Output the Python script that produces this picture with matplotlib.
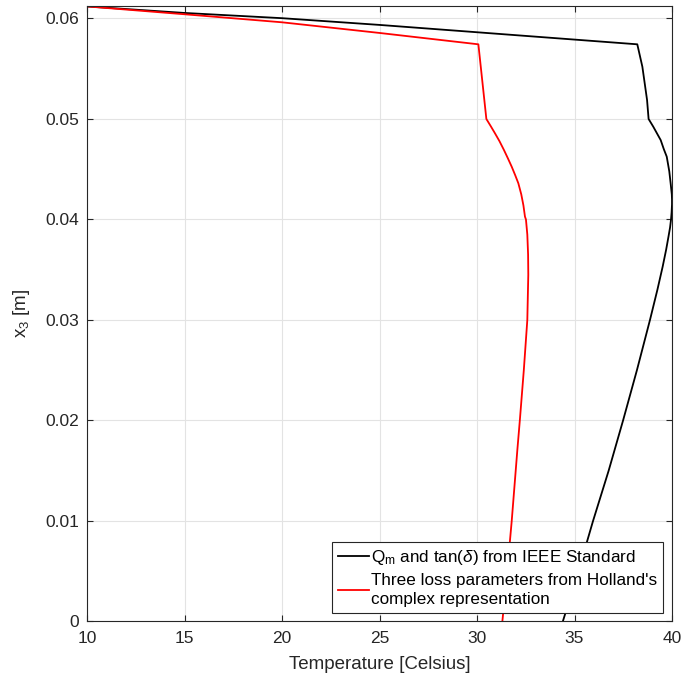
import matplotlib.pyplot as plt

plt.rcParams['font.family'] = ['Liberation Sans', 'DejaVu Sans']
plt.rcParams['mathtext.fontset'] = 'custom'
plt.rcParams['mathtext.rm'] = 'Liberation Sans'
plt.rcParams['mathtext.it'] = 'Liberation Sans:italic'

# Q_m / tan(delta) curve (bottom to top)
ieee_temp = [34.4, 35.2, 35.95, 36.75, 37.49, 38.2, 38.87, 39.25, 39.52, 39.7,
             39.82, 39.9, 39.95, 39.98, 40.0, 40.0, 39.99, 39.93, 39.86, 39.73,
             39.58, 39.42, 39.22, 39.04, 38.8, 38.72, 38.48, 38.22,
             30.0, 25.0, 20.0, 15.0, 10.0]
ieee_x3 = [0.0, 0.005, 0.01, 0.015, 0.02, 0.025, 0.03, 0.033, 0.0353, 0.037,
           0.0383, 0.0392, 0.04, 0.0407, 0.0415, 0.042, 0.0425, 0.0436, 0.0448, 0.04625,
           0.047, 0.0479, 0.0486, 0.04923, 0.05, 0.0519, 0.0552, 0.05743,
           0.05863, 0.05936, 0.06003, 0.06055, 0.0612]

# Holland's complex representation curve
holl_temp = [31.3, 31.55, 31.78, 32.07, 32.2, 32.4, 32.58, 32.63, 32.62, 32.58,
             32.51, 32.46, 32.38, 32.27, 32.12, 31.96, 31.78, 31.58, 31.38, 31.15,
             30.92, 30.7, 30.48, 30.07,
             25.0, 20.0, 15.0, 10.0]
holl_x3 = [0.0, 0.005, 0.01, 0.0171, 0.0201, 0.025, 0.03, 0.0345, 0.0365, 0.0385,
           0.04, 0.04028, 0.0414, 0.0425, 0.0436, 0.0444, 0.04525, 0.0461, 0.04692, 0.0478,
           0.04858, 0.0493, 0.05, 0.05743,
           0.05856, 0.05962, 0.06042, 0.0612]

dpi = 100
fig = plt.figure(figsize=(6.83, 6.84), dpi=dpi)
ax = fig.add_axes([0.1274, 0.0914, 0.8565, 0.8998])

ax.plot(ieee_temp, ieee_x3, color='black', lw=1.3,
        label=r'Q$_\mathrm{m}$ and tan($\delta$) from IEEE Standard')
ax.plot(holl_temp, holl_x3, color='red', lw=1.3,
        label="Three loss parameters from Holland's\ncomplex representation")

ax.set_xlim(10, 40)
ax.set_ylim(0, 0.06124)
ax.set_xticks(range(10, 41, 5))
ax.set_yticks([0, 0.01, 0.02, 0.03, 0.04, 0.05, 0.06])
ax.set_yticklabels(['0', '0.01', '0.02', '0.03', '0.04', '0.05', '0.06'])
ax.tick_params(direction='in', top=True, right=True, length=4.5, width=0.8,
               labelsize=12.5, colors='#262626')
ax.tick_params(axis='x', pad=7)
ax.tick_params(axis='y', pad=5.5)
ax.grid(True, color='#e3e3e3', lw=0.8)
ax.set_axisbelow(True)
for s in ax.spines.values():
    s.set_color('#262626')
    s.set_linewidth(0.8)

ax.set_xlabel('Temperature [Celsius]', fontsize=13.5, color='#262626', labelpad=7)
ax.set_ylabel(r'x$_3$ [m]', fontsize=13.5, color='#262626', labelpad=10)

leg = ax.legend(loc='lower right', fontsize=12.3, frameon=True, fancybox=False,
                borderaxespad=0.5, handlelength=1.8, handletextpad=0.15,
                labelspacing=0.4, borderpad=0.35)
for t in leg.get_texts():
    t.set_linespacing(1.3)
leg.get_frame().set_edgecolor('#262626')
leg.get_frame().set_linewidth(0.8)
leg.get_frame().set_alpha(1)

plt.savefig('out.png', dpi=dpi)
